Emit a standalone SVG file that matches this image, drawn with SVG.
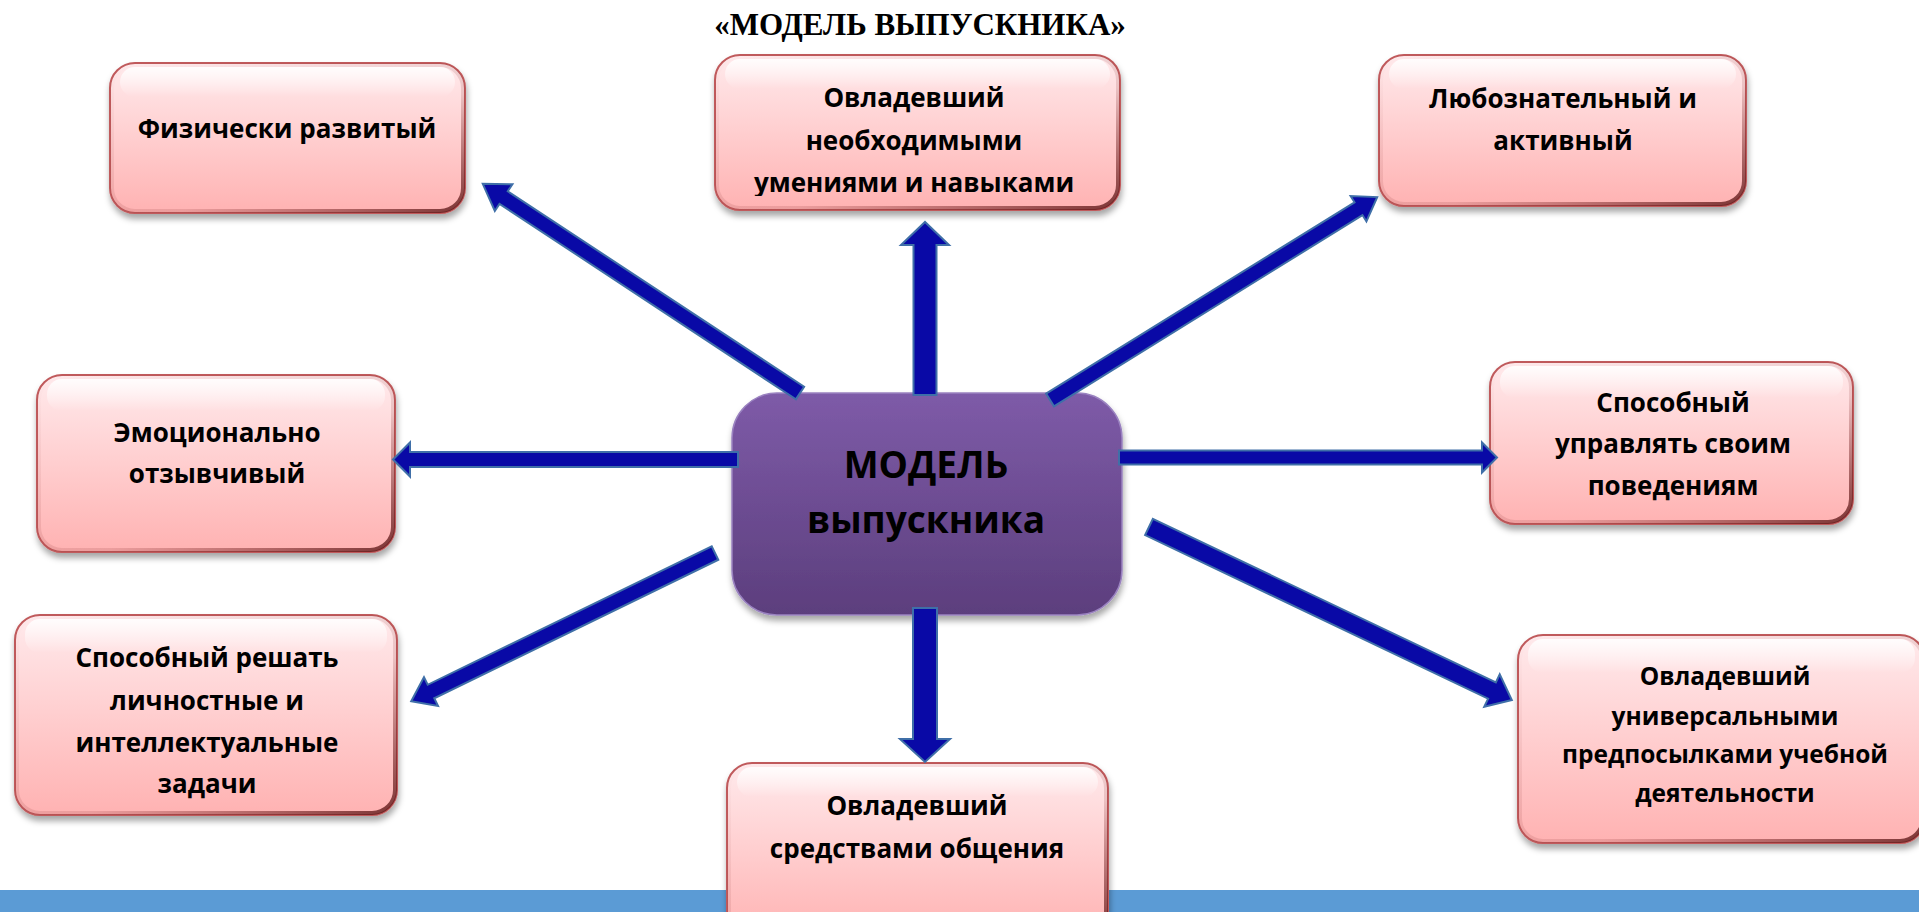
<svg xmlns="http://www.w3.org/2000/svg" width="1919" height="912" viewBox="0 0 1919 912">
<defs>
<linearGradient id="pink" x1="0" y1="0" x2="0" y2="1">
<stop offset="0" stop-color="#ffeaec"/>
<stop offset="1" stop-color="#ffb2b2"/>
</linearGradient>
<linearGradient id="gloss" x1="0" y1="0" x2="0" y2="1">
<stop offset="0" stop-color="#ffffff" stop-opacity="0.9"/>
<stop offset="1" stop-color="#ffffff" stop-opacity="0"/>
</linearGradient>
<linearGradient id="bevel" x1="0" y1="0" x2="1" y2="1">
<stop offset="0" stop-color="#7a2020" stop-opacity="0"/>
<stop offset="0.6" stop-color="#7a2020" stop-opacity="0.15"/>
<stop offset="1" stop-color="#5a1515" stop-opacity="0.8"/>
</linearGradient>
<linearGradient id="purple" x1="0" y1="0" x2="0" y2="1">
<stop offset="0" stop-color="#7e5ba8"/>
<stop offset="1" stop-color="#5c3e7d"/>
</linearGradient>
<filter id="sh" x="-10%" y="-10%" width="125%" height="135%">
<feDropShadow dx="1" dy="5" stdDeviation="3" flood-color="#000" flood-opacity="0.35"/>
</filter>
<clipPath id="clipN2"><rect x="715" y="55" width="405" height="141"/></clipPath>
<style>
.box{fill:url(#pink);stroke:#c05a5c;stroke-width:2;filter:url(#sh)}
.gl{fill:url(#gloss);stroke:none}
.bv{fill:none;stroke:url(#bevel);stroke-width:4}
.t{font-family:"Open Sans","Liberation Sans",sans-serif;font-weight:bold;font-size:26px;fill:#000;text-anchor:middle}
.big{font-size:37px}
.sm{font-size:24.5px}
.arr{fill:#0909a6;stroke:#3f6fa8;stroke-width:2;stroke-linejoin:miter}
</style>
</defs>
<rect x="0" y="0" width="1919" height="912" fill="#ffffff"/>
<text x="920" y="35" font-family="Liberation Serif,serif" font-weight="bold" font-size="31" text-anchor="middle">«МОДЕЛЬ ВЫПУСКНИКА»</text>
<rect x="0" y="890" width="1919" height="22" fill="#5b9bd5"/>

<g id="n1">
<rect class="box" x="110" y="63" width="355" height="150" rx="25"/>
<rect class="bv" x="112" y="65" width="351" height="146" rx="23"/>
<rect class="gl" x="120" y="67" width="335" height="30" rx="15"/>
<text class="t" x="287" y="138">Физически развитый</text>
</g>

<g id="n2">
<rect class="box" x="715" y="55" width="405" height="155" rx="25"/>
<rect class="bv" x="717" y="57" width="401" height="151" rx="23"/>
<rect class="gl" x="725" y="59" width="385" height="30" rx="15"/>
<g clip-path="url(#clipN2)">
<text class="t" x="914" y="107">Овладевший</text>
<text class="t" x="914" y="150">необходимыми</text>
<text class="t" x="914" y="192">умениями и навыками</text>
</g>
</g>

<g id="n3">
<rect class="box" x="1379" y="55" width="367" height="151" rx="25"/>
<rect class="bv" x="1381" y="57" width="363" height="147" rx="23"/>
<rect class="gl" x="1389" y="59" width="347" height="30" rx="15"/>
<text class="t" x="1563" y="108">Любознательный и</text>
<text class="t" x="1563" y="150">активный</text>
</g>

<g id="n4">
<rect class="box" x="37" y="375" width="358" height="177" rx="25"/>
<rect class="bv" x="39" y="377" width="354" height="173" rx="23"/>
<rect class="gl" x="47" y="379" width="338" height="32" rx="15"/>
<text class="t" x="217" y="442">Эмоционально</text>
<text class="t" x="217" y="483">отзывчивый</text>
</g>

<g id="n6">
<rect class="box" x="1490" y="362" width="363" height="162" rx="25"/>
<rect class="bv" x="1492" y="364" width="359" height="158" rx="23"/>
<rect class="gl" x="1500" y="366" width="343" height="32" rx="15"/>
<text class="t" x="1673" y="412">Способный</text>
<text class="t" x="1673" y="453">управлять своим</text>
<text class="t" x="1673" y="495">поведениям</text>
</g>

<g id="n7">
<rect class="box" x="15" y="615" width="382" height="200" rx="25"/>
<rect class="bv" x="17" y="617" width="378" height="196" rx="23"/>
<rect class="gl" x="25" y="619" width="362" height="34" rx="15"/>
<text class="t" x="207" y="667">Способный решать</text>
<text class="t" x="207" y="710">личностные и</text>
<text class="t" x="207" y="752">интеллектуальные</text>
<text class="t" x="207" y="793">задачи</text>
</g>

<g id="n8">
<rect class="box" x="727" y="763" width="381" height="175" rx="25"/>
<rect class="bv" x="729" y="765" width="377" height="171" rx="23"/>
<rect class="gl" x="737" y="767" width="361" height="30" rx="15"/>
<text class="t" x="917" y="815">Овладевший</text>
<text class="t" x="917" y="858">средствами общения</text>
</g>

<g id="n9">
<rect class="box" x="1518" y="635" width="407" height="208" rx="25"/>
<rect class="bv" x="1520" y="637" width="403" height="204" rx="23"/>
<rect class="gl" x="1528" y="639" width="387" height="34" rx="15"/>
<text class="t sm" x="1725" y="685">Овладевший</text>
<text class="t sm" x="1725" y="725">универсальными</text>
<text class="t sm" x="1725" y="763">предпосылками учебной</text>
<text class="t sm" x="1725" y="802">деятельности</text>
</g>

<g id="n5">
<rect x="732" y="393" width="390" height="222" rx="45" fill="url(#purple)" stroke="#9a82c0" stroke-width="1.5" filter="url(#sh)"/>
<text class="t big" x="926" y="478">МОДЕЛЬ</text>
<text class="t big" x="926" y="533">выпускника</text>
</g>

<g id="connectors">
<path class="arr" transform="translate(800,393) rotate(-146.6)" d="M0,-7.5 H355 V-16 L380,0 L355,16 V7.5 H0 Z"/>
<path class="arr" transform="translate(925,395) rotate(-90)" d="M0,-11.5 H150 V-24 L173,0 L150,24 V11.5 H0 Z"/>
<path class="arr" transform="translate(1050,400) rotate(-31.8)" d="M0,-7.5 H363 V-15 L385,0 L363,15 V7.5 H0 Z"/>
<path class="arr" transform="translate(1119,457.5)" d="M0,-7 H363 V-15 L378,0 L363,15 V7 H0 Z"/>
<path class="arr" transform="translate(738,459.5) rotate(180)" d="M0,-7.5 H328 V-17 L345,0 L328,17 V7.5 H0 Z"/>
<path class="arr" transform="translate(715,553) rotate(154)" d="M0,-7.5 H316 V-16 L338,0 L316,16 V7.5 H0 Z"/>
<path class="arr" transform="translate(925,608) rotate(90)" d="M0,-12 H131 V-25 L154,0 L131,25 V12 H0 Z"/>
<path class="arr" transform="translate(1149,527) rotate(25.5)" d="M0,-9 H380 V-18 L402,0 L380,18 V9 H0 Z"/>
</g>
</svg>
